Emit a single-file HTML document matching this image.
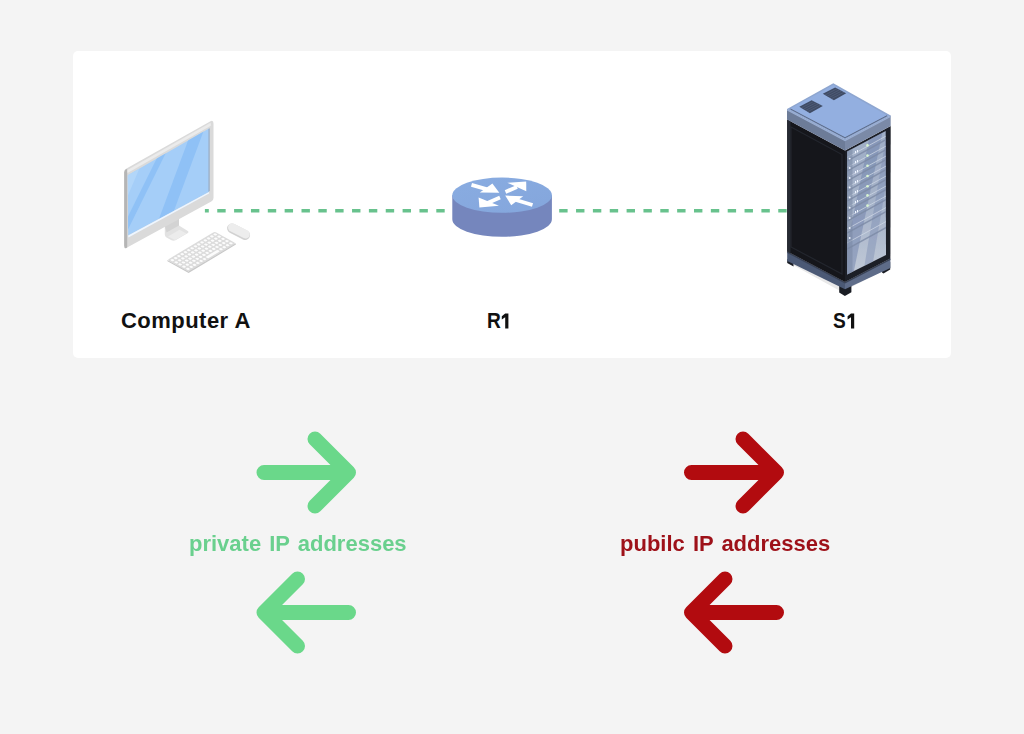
<!DOCTYPE html>
<html>
<head>
<meta charset="utf-8">
<style>
html,body{margin:0;padding:0;}
body{width:1024px;height:734px;background:#f4f4f4;position:relative;overflow:hidden;font-family:"Liberation Sans",sans-serif;}
.card{position:absolute;left:73px;top:51px;width:878px;height:307px;background:#fff;border-radius:5px;}
svg.g{position:absolute;left:0;top:0;}
.lbl{position:absolute;font-weight:bold;color:#111;font-size:22px;white-space:nowrap;line-height:1;}
.cap{position:absolute;font-weight:bold;font-size:22px;letter-spacing:0px;word-spacing:2px;white-space:nowrap;line-height:1;}
</style>
</head>
<body>
<div id="wrap" style="position:absolute;left:0;top:0;width:1024px;height:734px;filter:blur(0.35px);">
<div class="card"></div>
<svg class="g" width="1024" height="734" viewBox="0 0 1024 734">
  <defs>
    <clipPath id="scr"><path d="M127.8,175.2 L209,128.5 L209,191.9 L128.2,235.6 Z"/></clipPath>
    <clipPath id="gls"><path d="M847.1,151.6 L885.7,130.9 L886,255 L847.1,274.5 Z"/></clipPath>
    <linearGradient id="rtop" x1="0" y1="0" x2="1" y2="1">
      <stop offset="0" stop-color="#89ace1"/>
      <stop offset="1" stop-color="#84a6dc"/>
    </linearGradient>
    <linearGradient id="gl" x1="0" y1="0" x2="0" y2="1">
      <stop offset="0" stop-color="#9eadc6"/>
      <stop offset="0.55" stop-color="#a7b4ca"/>
      <stop offset="1" stop-color="#c3cbd8"/>
    </linearGradient>
  </defs>
  <!-- dashed links -->
  <g stroke="#68c28d" stroke-width="3.4" fill="none">
    <line x1="204.9" y1="210.8" x2="446" y2="210.8" stroke-dasharray="8.4 8.45" stroke-dashoffset="4.5"/>
    <line x1="559.2" y1="210.8" x2="787" y2="210.8" stroke-dasharray="8.4 8.45"/>
  </g>

  <!-- ===== Computer ===== -->
  <g id="computer">
    <!-- stand -->
    <path d="M164.8,226 L179,218.5 L179,225.5 L188.2,231.2 Q189,232.5 187.5,233.3 L175.5,240.3 Q173.5,241.2 171.5,240.3 L166.5,237.5 Q164.8,236.5 164.8,234.5 Z" fill="#e2e2e2"/>
    <path d="M164.8,226 L179,218.5 L179,225.5 L166.5,232.5 Z" fill="#d3d3d3"/>
    <path d="M168,236.5 L179.5,229.8 L186.5,233.5 L175,240 Z" fill="#ececec"/>
    <!-- monitor body -->
    <path d="M124.2,172.5 Q124.2,169.8 126.5,168.6 L210.5,121.2 Q213.5,119.8 213.5,123.5 L213.5,198 Q213.5,200.4 211.3,201.6 L128.5,246.8 Q124.2,249.2 124.2,244.8 Z" fill="#dadada"/>
    <path d="M126.5,170.5 L210.5,122.8 L211.2,125.5 L127.5,173 Z" fill="#ebebeb"/>
    <!-- side strip -->
    <path d="M124.2,172.5 Q124.2,170 126.2,169 L127.2,169.5 L127.2,247.6 L126,248.2 Q124.2,248.8 124.2,245.5 Z" fill="#b5b5b5"/>
    <!-- screen -->
    <g clip-path="url(#scr)">
      <rect x="120" y="120" width="100" height="130" fill="#a5cef8"/>
      <path d="M175.7,120 L182.1,120 L117.9,250 L111.5,250 Z" fill="#8fc1f6"/>
      <path d="M195.7,120 L207.7,120 L159.4,250 L147.4,250 Z" fill="#8fc1f6"/>
      <path d="M126,175 L140,167 L126,200 Z" fill="#b2d6f9"/>
    </g>
    <path d="M128.2,235.6 L209,191.9 L209,193.6 L128.4,237.6 Z" fill="#eef6ff"/>
    <path d="M208.4,129 L209.8,128.3 L209.8,191 L208.4,191.8 Z" fill="#9bb0c8"/>
    <!-- keyboard -->
    <g transform="matrix(3.3,-1.97,3.9,2.2,168.74,259.95)">
      <rect x="-0.2" y="-0.2" width="14.4" height="5.4" rx="0.5" fill="#dcdcdc"/>
      <g fill="#fcfcfc">
        <rect x="0.17" y="0.17" width="0.66" height="0.66" rx="0.25"/>
        <rect x="0.17" y="1.17" width="0.66" height="0.66" rx="0.25"/>
        <rect x="0.17" y="2.17" width="0.66" height="0.66" rx="0.25"/>
        <rect x="0.17" y="3.17" width="0.66" height="0.66" rx="0.25"/>
        <rect x="0.17" y="4.17" width="0.66" height="0.66" rx="0.25"/>
        <rect x="1.17" y="0.17" width="0.66" height="0.66" rx="0.25"/>
        <rect x="1.17" y="1.17" width="0.66" height="0.66" rx="0.25"/>
        <rect x="1.17" y="2.17" width="0.66" height="0.66" rx="0.25"/>
        <rect x="1.17" y="3.17" width="0.66" height="0.66" rx="0.25"/>
        <rect x="1.17" y="4.17" width="0.66" height="0.66" rx="0.25"/>
        <rect x="2.17" y="0.17" width="0.66" height="0.66" rx="0.25"/>
        <rect x="2.17" y="1.17" width="0.66" height="0.66" rx="0.25"/>
        <rect x="2.17" y="2.17" width="0.66" height="0.66" rx="0.25"/>
        <rect x="2.17" y="3.17" width="0.66" height="0.66" rx="0.25"/>
        <rect x="2.17" y="4.17" width="0.66" height="0.66" rx="0.25"/>
        <rect x="3.17" y="0.17" width="0.66" height="0.66" rx="0.25"/>
        <rect x="3.17" y="1.17" width="0.66" height="0.66" rx="0.25"/>
        <rect x="3.17" y="2.17" width="0.66" height="0.66" rx="0.25"/>
        <rect x="3.17" y="3.17" width="0.66" height="0.66" rx="0.25"/>
        <rect x="3.17" y="4.17" width="0.66" height="0.66" rx="0.25"/>
        <rect x="4.17" y="0.17" width="0.66" height="0.66" rx="0.25"/>
        <rect x="4.17" y="1.17" width="0.66" height="0.66" rx="0.25"/>
        <rect x="4.17" y="2.17" width="0.66" height="0.66" rx="0.25"/>
        <rect x="4.17" y="3.17" width="0.66" height="0.66" rx="0.25"/>
        <rect x="4.17" y="4.17" width="0.66" height="0.66" rx="0.25"/>
        <rect x="5.17" y="0.17" width="0.66" height="0.66" rx="0.25"/>
        <rect x="5.17" y="1.17" width="0.66" height="0.66" rx="0.25"/>
        <rect x="5.17" y="2.17" width="0.66" height="0.66" rx="0.25"/>
        <rect x="5.17" y="3.17" width="0.66" height="0.66" rx="0.25"/>
        <rect x="5.17" y="4.17" width="0.66" height="0.66" rx="0.25"/>
        <rect x="6.17" y="0.17" width="0.66" height="0.66" rx="0.25"/>
        <rect x="6.17" y="1.17" width="0.66" height="0.66" rx="0.25"/>
        <rect x="6.17" y="2.17" width="0.66" height="0.66" rx="0.25"/>
        <rect x="6.17" y="3.17" width="0.66" height="0.66" rx="0.25"/>
        <rect x="7.17" y="0.17" width="0.66" height="0.66" rx="0.25"/>
        <rect x="7.17" y="1.17" width="0.66" height="0.66" rx="0.25"/>
        <rect x="7.17" y="2.17" width="0.66" height="0.66" rx="0.25"/>
        <rect x="7.17" y="3.17" width="0.66" height="0.66" rx="0.25"/>
        <rect x="8.17" y="0.17" width="0.66" height="0.66" rx="0.25"/>
        <rect x="8.17" y="1.17" width="0.66" height="0.66" rx="0.25"/>
        <rect x="8.17" y="2.17" width="0.66" height="0.66" rx="0.25"/>
        <rect x="8.17" y="3.17" width="0.66" height="0.66" rx="0.25"/>
        <rect x="9.17" y="0.17" width="0.66" height="0.66" rx="0.25"/>
        <rect x="9.17" y="1.17" width="0.66" height="0.66" rx="0.25"/>
        <rect x="9.17" y="2.17" width="0.66" height="0.66" rx="0.25"/>
        <rect x="9.17" y="3.17" width="0.66" height="0.66" rx="0.25"/>
        <rect x="10.17" y="0.17" width="0.66" height="0.66" rx="0.25"/>
        <rect x="10.17" y="1.17" width="0.66" height="0.66" rx="0.25"/>
        <rect x="10.17" y="2.17" width="0.66" height="0.66" rx="0.25"/>
        <rect x="10.17" y="3.17" width="0.66" height="0.66" rx="0.25"/>
        <rect x="10.17" y="4.17" width="0.66" height="0.66" rx="0.25"/>
        <rect x="11.17" y="0.17" width="0.66" height="0.66" rx="0.25"/>
        <rect x="11.17" y="1.17" width="0.66" height="0.66" rx="0.25"/>
        <rect x="11.17" y="2.17" width="0.66" height="0.66" rx="0.25"/>
        <rect x="11.17" y="3.17" width="0.66" height="0.66" rx="0.25"/>
        <rect x="11.17" y="4.17" width="0.66" height="0.66" rx="0.25"/>
        <rect x="12.17" y="0.17" width="0.66" height="0.66" rx="0.25"/>
        <rect x="12.17" y="1.17" width="0.66" height="0.66" rx="0.25"/>
        <rect x="12.17" y="2.17" width="0.66" height="0.66" rx="0.25"/>
        <rect x="12.17" y="3.17" width="0.66" height="0.66" rx="0.25"/>
        <rect x="12.17" y="4.17" width="0.66" height="0.66" rx="0.25"/>
        <rect x="13.17" y="0.17" width="0.66" height="0.66" rx="0.25"/>
        <rect x="13.17" y="1.17" width="0.66" height="0.66" rx="0.25"/>
        <rect x="13.17" y="2.17" width="0.66" height="0.66" rx="0.25"/>
        <rect x="13.17" y="3.17" width="0.66" height="0.66" rx="0.25"/>
        <rect x="13.17" y="4.17" width="0.66" height="0.66" rx="0.25"/>
        <rect x="6.17" y="4.17" width="3.66" height="0.66" rx="0.25"/>
      </g>
    </g>
    <path d="M167.3,259.9 L188.4,271.5 L235.9,243.3 L235.9,244.6 L188.6,273 L167.5,261.3 Z" fill="#c8c8c8"/>
    <!-- mouse -->
    <rect x="226.3" y="226.8" width="24.6" height="9.8" rx="4.9" transform="rotate(27 238.6 231.7)" fill="#d2d2d2"/>
    <rect x="226.8" y="226.6" width="23.4" height="8.4" rx="4.2" transform="rotate(27 238.6 231.7)" fill="#ededed"/>
  </g>

  <!-- ===== Router ===== -->
  <g id="router">
    <path d="M452.3,195.2 L452.3,219.2 A49.8,17.6 0 0 0 551.9,219.2 L551.9,195.2 Z" fill="#7586bd"/>
    <ellipse cx="502.1" cy="195.2" rx="49.8" ry="17.6" fill="url(#rtop)"/>
    <g fill="#fff">
      <path d="M492.4,183.4 L499.3,192.7 L479.8,192.6 Z"/>
      <path d="M507.4,182.8 L526.2,181.6 L526.3,191.3 Z"/>
      <path d="M478.6,197.6 L479.4,207.4 L499,205.8 Z"/>
      <path d="M505.2,195.6 L523.2,196.3 L511.2,205.2 Z"/>
    </g>
    <g stroke="#fff" stroke-width="3.8" fill="none">
      <line x1="471.5" y1="184.8" x2="489" y2="189.8"/>
      <line x1="505.5" y1="191.9" x2="517" y2="186.9"/>
      <line x1="500" y1="197.5" x2="487.5" y2="203"/>
      <line x1="532.5" y1="205" x2="516" y2="200"/>
    </g>
  </g>

  <!-- ===== Server ===== -->
  <g id="server">
    <path d="M793,265 L842,292 L888,268 L838,244 Z" fill="#e9e9e9"/>
    <!-- feet -->
    <path d="M787.2,259 L793.5,262.5 L793.5,266.5 L787.2,263 Z" fill="#1a1d24"/>
    <path d="M839.2,286 L851.4,286 L851.4,292.2 L844.9,296 L839.2,292.6 Z" fill="#1a1d24"/>
    <path d="M882,266 L890.2,262 L890.2,269.5 L883.5,273.4 L882,272.5 Z" fill="#1a1d24"/>
    <!-- base -->
    <path d="M787.2,251.5 L845,282 L845,289.2 L787.2,261 Z" fill="#4b5975"/>
    <path d="M845,282 L890.4,258.5 L890.4,268 L845,289.2 Z" fill="#5e6c89"/>
    <path d="M787.2,251.5 L845,282 L890.4,258.5 L890.4,260 L845,283.5 L787.2,253 Z" fill="#3a4357"/>
    <!-- left face -->
    <path d="M787.2,119.5 L845,150.5 L845,282 L787.2,251.5 Z" fill="#15161b"/>
    <path d="M791,127 L842,154.5 L842,274 L791,247 Z" fill="none" stroke="#23262e" stroke-width="1.2"/>
    <path d="M787.2,119.5 L790.5,121.3 L790.5,253.2 L787.2,251.5 Z" fill="#262a33"/>
    <!-- right face frame -->
    <path d="M845,150.5 L890.7,126 L890.4,258.5 L845,282 Z" fill="#1c1f27"/>
    <!-- glass -->
    <g clip-path="url(#gls)">
      <rect x="845" y="125" width="45" height="155" fill="url(#gl)"/>
      <path d="M872,125 L884,125 L852,280 L840,280 Z" fill="#6f82ab" opacity="0.5"/>
      <path d="M888,125 L896,125 L870,280 L862,280 Z" fill="#7587ae" opacity="0.4"/>
      <g stroke="#7c8aa5" stroke-width="1.5" opacity="0.8">
        <line x1="847" y1="161" x2="887" y2="139"/>
        <line x1="847" y1="171" x2="887" y2="149"/>
        <line x1="847" y1="181" x2="887" y2="159"/>
        <line x1="847" y1="191" x2="887" y2="169"/>
        <line x1="847" y1="201" x2="887" y2="179"/>
        <line x1="847" y1="211" x2="887" y2="189"/>
        <line x1="847" y1="221" x2="887" y2="199"/>
        <line x1="847" y1="233" x2="887" y2="211"/>
        <line x1="847" y1="249" x2="887" y2="227"/>
      </g>
      <g stroke="#d3dbe8" stroke-width="1" opacity="0.7">
        <line x1="847" y1="157.5" x2="887" y2="135.5"/>
        <line x1="847" y1="167.5" x2="887" y2="145.5"/>
        <line x1="847" y1="177.5" x2="887" y2="155.5"/>
        <line x1="847" y1="187.5" x2="887" y2="165.5"/>
        <line x1="847" y1="197.5" x2="887" y2="175.5"/>
        <line x1="847" y1="207.5" x2="887" y2="185.5"/>
        <line x1="847" y1="217.5" x2="887" y2="195.5"/>
        <line x1="847" y1="229" x2="887" y2="207"/>
        <line x1="847" y1="243" x2="887" y2="221"/>
      </g>
      <path d="M847,150 L852.5,147 L852.5,276 L847,279 Z" fill="#7986a2" opacity="0.55"/>
      <g fill="#eef4ff">
        <circle cx="849.7" cy="158.6" r="0.95"/><circle cx="849.7" cy="168" r="0.95"/><circle cx="849.7" cy="178" r="0.95"/>
        <circle cx="849.7" cy="187.5" r="0.95"/><circle cx="849.7" cy="197.5" r="0.95"/><circle cx="849.7" cy="207.7" r="0.95"/>
        <circle cx="849.7" cy="218" r="0.95"/><circle cx="849.7" cy="228" r="0.95"/><circle cx="849.7" cy="238" r="0.95"/>
        <rect x="855" y="151" width="1" height="2.4"/><rect x="857" y="150" width="1" height="2.4"/>
        <rect x="855" y="161" width="1" height="2.4"/><rect x="857" y="160" width="1" height="2.4"/>
        <rect x="855" y="171" width="1" height="2.4"/><rect x="857" y="170" width="1" height="2.4"/>
        <rect x="855" y="181" width="1" height="2.4"/><rect x="857" y="180" width="1" height="2.4"/>
        <rect x="855" y="191" width="1" height="2.4"/><rect x="857" y="190" width="1" height="2.4"/>
        <rect x="855" y="201" width="1" height="2.4"/><rect x="857" y="200" width="1" height="2.4"/>
        <rect x="855" y="211" width="1" height="2.4"/><rect x="857" y="210" width="1" height="2.4"/>
      </g>
      <g fill="#d8f5d0">
        <circle cx="867.5" cy="145.4" r="1.3"/><circle cx="867.5" cy="155.6" r="1.3"/><circle cx="867.5" cy="165.8" r="1.3"/>
        <circle cx="867.5" cy="176" r="1.3"/><circle cx="867.5" cy="186.2" r="1.3"/><circle cx="867.5" cy="195.4" r="1.3"/>
        <circle cx="867.5" cy="205.6" r="1.3"/>
      </g>
    </g>
    <!-- lid rim -->
    <path d="M787,109 L845,139.5 L845,150.5 L787,119.5 Z" fill="#6d7c98"/>
    <path d="M845,139.5 L890.7,115.5 L890.7,126 L845,150.5 Z" fill="#7b8aa7"/>
    <path d="M787,109 L845,139.5 L890.7,115.5 L890.7,117 L845,141.3 L787,110.6 Z" fill="#9aaed2"/>
    <!-- lid top -->
    <path d="M787,109 L833.3,83.3 L890.7,115.5 L845,139.5 Z" fill="#8ea6d0"/>
    <path d="M790.5,108.6 L833.3,85 L887,115.3 L845,137.3 Z" fill="#93afe0"/>
    <path d="M790.5,108.6 L845,137.3 L887,115.3 L887,116.2 L845,138.3 L790.5,109.5 Z" fill="#5a6884"/>
    <!-- vents -->
    <path d="M799.3,106.7 L811.6,100.3 L822.8,106.1 L809.9,113.2 Z" fill="#3f4b64"/>
    <path d="M822.8,93.8 L835.1,87.4 L846.2,93.2 L833.9,100.3 Z" fill="#3f4b64"/>
    <g stroke="#5d6b88" stroke-width="0.5">
      <path d="M801.5,107.8 L813.8,101.4 M803.8,109 L816,102.6 M806,110.2 L818.4,103.8 M808.2,111.4 L820.6,105"/>
      <path d="M825,95 L837.3,88.6 M827.2,96.2 L839.5,89.8 M829.4,97.4 L841.7,91 M831.6,98.6 L844,92.2"/>
    </g>
  </g>
</svg>

<div class="lbl" style="left:121px;top:310px;letter-spacing:0.47px;">Computer A</div>
<div class="lbl" style="left:487px;top:310px;transform:scaleX(0.87);transform-origin:0 0;">R</div>
<div class="lbl" style="left:833px;top:310px;transform:scaleX(0.87);transform-origin:0 0;">S</div>
<svg class="g" width="1024" height="734" viewBox="0 0 1024 734"><g fill="#111"><path d="M505.2,313.6 L508.4,313.6 L508.4,328.4 L505.2,328.4 L505.2,317.2 L501.8,319.6 L501.8,316.2 Z"/><path d="M851,313.6 L854.2,313.6 L854.2,328.4 L851,328.4 L851,317.2 L847.6,319.6 L847.6,316.2 Z"/></g></svg>

<svg class="g" width="1024" height="734" viewBox="0 0 1024 734">
  <g fill="none" stroke-width="15" stroke-linecap="round" stroke-linejoin="round">
    <g stroke="#6ad88a">
      <path d="M264,472.5 L348.5,472.5 M315,439 L348.5,472.5 L315,506"/>
      <path d="M348.5,612.5 L264,612.5 M297.5,579 L264,612.5 L297.5,646"/>
    </g>
    <g stroke="#b20b0f">
      <path d="M691.5,472.5 L776.5,472.5 M743,439 L776.5,472.5 L743,506"/>
      <path d="M776.5,612.5 L691.5,612.5 M725,579 L691.5,612.5 L725,646"/>
    </g>
  </g>
</svg>

<div class="cap" style="left:189px;top:532.5px;color:#6ad08e;">private IP addresses</div>
<div class="cap" style="left:620px;top:532.5px;color:#9e1119;">pubilc IP addresses</div>
</div>
</body>
</html>
